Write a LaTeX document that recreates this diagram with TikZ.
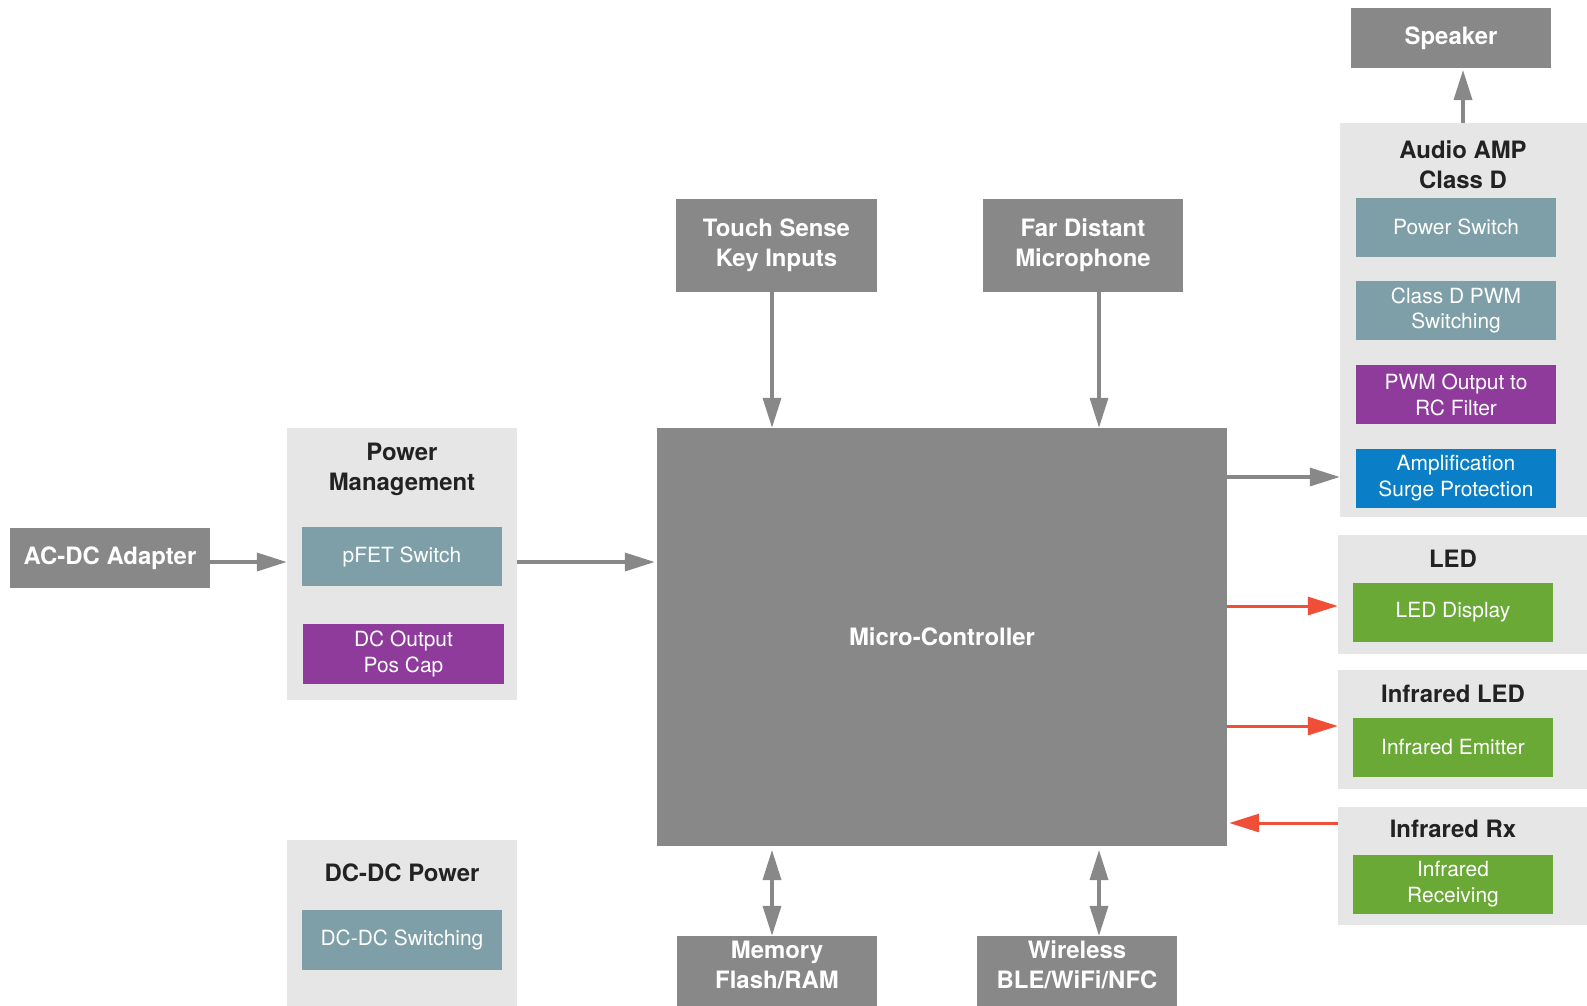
\documentclass[tikz,border=0pt]{standalone}
\usepackage{fontspec}
\setmainfont{TeX Gyre Heros}
\usetikzlibrary{arrows.meta}
\definecolor{boxgray}{RGB}{136,136,136}
\definecolor{contgray}{RGB}{230,230,230}
\definecolor{slate}{RGB}{127,159,168}
\definecolor{purp}{RGB}{142,59,155}
\definecolor{bluec}{RGB}{10,126,198}
\definecolor{greenc}{RGB}{106,169,54}
\definecolor{redc}{RGB}{240,78,55}
\definecolor{titlec}{RGB}{34,34,34}
\begin{document}
\begin{tikzpicture}[x=1bp,y=-1bp,
  gbox/.style={fill=boxgray, text=white, font=\bfseries\fontsize{24}{30}\selectfont, align=center, inner sep=0pt, minimum width=200bp, minimum height=60bp},
  cont/.style={fill=contgray, inner sep=0pt},
  ttl/.style={text=titlec, font=\bfseries\fontsize{24}{30}\selectfont, align=center, inner sep=0pt},
  ibox/.style={text=white, font=\fontsize{21}{26}\selectfont, align=center, inner sep=0pt, minimum width=200bp, minimum height=59bp},
  garrow/.style={draw=boxgray, line width=3.5bp, -{Triangle[length=30bp,width=18bp]}},
  gdarrow/.style={draw=boxgray, line width=3.5bp, {Triangle[length=30bp,width=18bp]}-{Triangle[length=30bp,width=18bp]}},
  rarrow/.style={draw=redc, line width=3bp, -{Triangle[length=30bp,width=18bp]}},
]
\useasboundingbox (0,0) rectangle (1587,1005);
\clip (0,0) rectangle (1587,1005);
\fill[white] (0,0) rectangle (1587,1005);

% Speaker and Audio AMP
\node[gbox] (spk) at (1451,38) {Speaker};
\node[cont, minimum width=247bp, minimum height=394bp] (amp) at (1463.5,320) {};
\node[ttl] (ampt) at (1463,165) {Audio AMP\\Class D};
\node[ibox, fill=slate] (psw) at (1456,227) {Power Switch};
\node[ibox, fill=slate] (pwm) at (1456,310.5) {Class D PWM\\Switching};
\node[ibox, fill=purp] (rcf) at (1456,394.5) {PWM Output to\\RC Filter};
\node[ibox, fill=bluec] (amplif) at (1456,478.5) {Amplification\\Surge Protection};

% LED groups
\node[cont, minimum width=249bp, minimum height=119bp] (led) at (1462.5,594.5) {};
\node[ttl] (ledt) at (1453,559) {LED};
\node[ibox, fill=greenc] (ledd) at (1453,612.5) {LED Display};
\node[cont, minimum width=249bp, minimum height=119bp] (irled) at (1462.5,729.5) {};
\node[ttl] (irledt) at (1453,694) {Infrared LED};
\node[ibox, fill=greenc] (ire) at (1453,747) {Infrared Emitter};
\node[cont, minimum width=249bp, minimum height=118bp] (irrx) at (1462.5,866) {};
\node[ttl] (irrxt) at (1453,829) {Infrared Rx};
\node[ibox, fill=greenc] (irr) at (1453,884.5) {Infrared\\Receiving};

% Micro-controller
\node[gbox, minimum width=570bp, minimum height=418bp] (mc) at (942,637) {Micro-Controller};

% Top inputs
\node[gbox, minimum width=201bp, minimum height=93bp] (ts) at (776.5,245.5) {Touch Sense\\Key Inputs};
\node[gbox, minimum height=93bp] (mic) at (1083,245.5) {Far Distant\\Microphone};

% Bottom (boxes run past the lower edge)
\fill[boxgray] (677,960) rectangle (877,1030);
\fill[boxgray] (977,960) rectangle (1177,1030);
\node[gbox, minimum height=58bp] (mem) at (777,965) {Memory\\Flash/RAM};
\node[gbox, minimum height=58bp] (wl) at (1077,965) {Wireless\\BLE/WiFi/NFC};

% Left
\node[gbox] (acdc) at (110,558) {AC-DC Adapter};
\node[cont, minimum width=230bp, minimum height=272bp] (pm) at (402,564) {};
\node[ttl] (pmt) at (402,469.5) {Power\\Management};
\node[ibox, fill=slate] (pfet) at (402,556.5) {pFET Switch};
\node[ibox, fill=purp, minimum width=201bp, minimum height=60bp] (dco) at (403.5,654) {DC Output\\Pos Cap};
\node[cont, minimum width=230bp, minimum height=200bp] (dcdc) at (402,940) {};
\node[ttl] (dcdct) at (402,873) {DC-DC Power};
\node[ibox, fill=slate, minimum height=60bp] (dcsw) at (402,940) {DC-DC Switching};

% helper coordinates
\coordinate (xa) at (772,0);
\coordinate (xb) at (1099,0);
\coordinate (xs) at (1463,0);
\coordinate (ya) at (0,562);
\coordinate (yb) at (0,477);
\coordinate (yc) at (0,606);
\coordinate (yd) at (0,726);
\coordinate (ye) at (0,823);
\coordinate (ybot) at (0,850);
\coordinate (ytop) at (0,70);

% connectors
\draw[garrow] (amp.north -| xs) -- (ytop -| xs);
\draw[garrow] (ts.south -| xa) -- (mc.north -| xa);
\draw[garrow] (mic.south -| xb) -- (mc.north -| xb);
\draw[gdarrow] (ybot -| xa) -- (mem.north -| xa);
\draw[gdarrow] (ybot -| xb) -- (wl.north -| xb);
\draw[garrow] (acdc.east |- ya) -- (pm.west |- ya);
\draw[garrow] (pm.east |- ya) -- ([xshift=-2bp]mc.west |- ya);
\draw[garrow] (mc.east |- yb) -- (amp.west |- yb);
\draw[rarrow] (mc.east |- yc) -- (led.west |- yc);
\draw[rarrow] (mc.east |- yd) -- (irled.west |- yd);
\draw[rarrow] (irrx.west |- ye) -- ([xshift=2bp]mc.east |- ye);
\end{tikzpicture}
\end{document}
